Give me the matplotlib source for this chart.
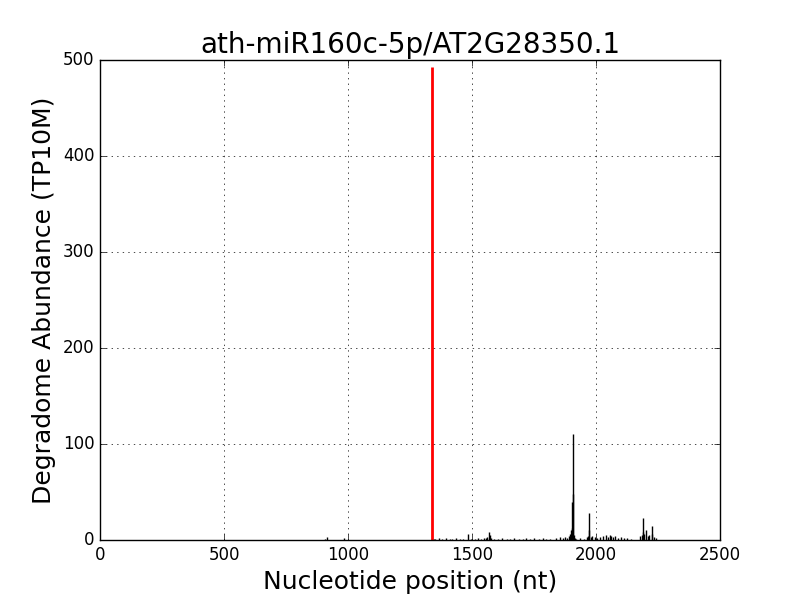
import matplotlib
matplotlib.use("Agg")
import matplotlib.pyplot as plt

# Degradome reads along the transcript (position in nt, abundance in TP10M)
positions = [40, 54, 87, 249, 289, 309, 343, 571, 645, 685, 853, 907, 914, 984,
             1048, 1089, 1169, 1210, 1257,
             1345, 1352, 1368, 1380, 1395, 1410, 1420, 1436, 1450, 1462, 1483,
             1495, 1512, 1525, 1535, 1548, 1556, 1562, 1570, 1572, 1578, 1590,
             1605, 1622, 1640, 1655, 1668, 1690, 1705, 1718, 1735, 1750, 1770,
             1785, 1800, 1815, 1838, 1855, 1868, 1876, 1884, 1890, 1896, 1900,
             1903, 1905, 1906, 1908, 1910, 1914, 1920, 1935, 1950, 1962, 1968,
             1972, 1973, 1978, 1985, 1995, 2005, 2015, 2030, 2040, 2048, 2055,
             2062, 2070, 2078, 2088, 2100, 2112, 2125, 2140, 2178, 2185, 2190,
             2191, 2195, 2200, 2208, 2215, 2224, 2226, 2232, 2240]
abundance = [0.5, 0.5, 0.5, 0.5, 0.5, 0.5, 0.5, 0.5, 0.5, 0.5, 0.5, 0.8, 3, 2,
             0.5, 0.5, 0.5, 0.5, 0.5,
             1.5, 1, 2, 1, 2, 1, 1.5, 2, 1, 1.5, 6,
             1, 1.5, 2, 1, 2, 2.5, 3, 8, 5, 2, 1.5,
             1, 2, 1, 1.5, 2, 1, 1.5, 2, 1, 2.5, 1,
             2, 1.5, 1, 2, 3, 2, 3, 2, 4, 6, 10,
             12, 40, 48, 110, 5, 2, 1.5, 2, 1, 3, 4,
             10, 28, 3, 4, 3, 2, 3, 4, 5, 3, 5,
             4, 3, 4, 2, 3, 2, 2, 1, 4, 5, 8,
             23, 6, 10, 4, 5, 15, 6, 3, 2]

# predicted miRNA cleavage site
site_pos = 1339
site_abundance = 493

plt.style.use("classic")
fig = plt.figure(figsize=(8, 6))
ax = fig.add_subplot(111)

ax.vlines(positions, 0, abundance, color="k", linewidth=1)
ax.vlines([site_pos], 0, [site_abundance], color="r", linewidth=2)

ax.set_xlim(0, 2500)
ax.set_ylim(0, 500)
ax.grid(True)
ax.set_title("ath-miR160c-5p/AT2G28350.1", fontsize=20)
ax.set_xlabel("Nucleotide position (nt)", fontsize=18)
ax.set_ylabel("Degradome Abundance (TP10M)", fontsize=18)

fig.savefig("out.png", dpi=100, facecolor="white")
